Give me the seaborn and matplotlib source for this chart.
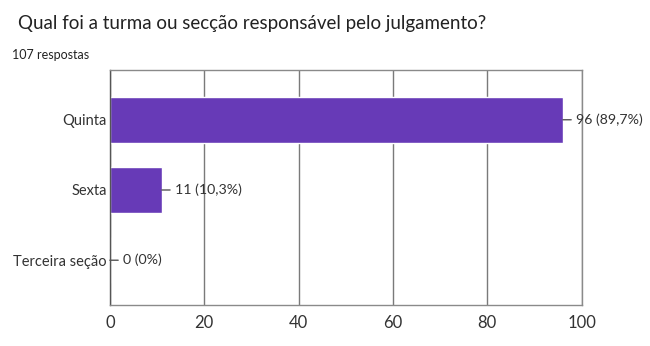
import matplotlib
matplotlib.use("Agg")
import matplotlib.pyplot as plt
import seaborn as sns
import pandas as pd

# Dados
categorias = ["Quinta", "Sexta", "Terceira seção"]
respostas = [96, 11, 0]
rotulos = ["96 (89,7%)", "11 (10,3%)", "0 (0%)"]
total = 107

df = pd.DataFrame({"categoria": categorias, "respostas": respostas})

sns.set_style("white")
plt.rcParams["font.family"] = ["Lato", "DejaVu Sans"]

fig = plt.figure(figsize=(6.5, 3.46), dpi=100)
ax = fig.add_axes([0.169, 0.118, 0.726, 0.680])

sns.barplot(data=df, x="respostas", y="categoria", color="#673AB7",
            saturation=1, width=0.66, ax=ax, orient="h")

ax.set_xlim(0, 100)
ax.set_ylim(2.64, -0.71)
ax.set_xticks([0, 20, 40, 60, 80, 100])
ax.grid(axis="x", color="#7a7a7a", linewidth=1)
ax.set_axisbelow(True)
for s in ax.spines.values():
    s.set_color("#8a8a8a")
    s.set_linewidth(1)
ax.spines["left"].set_color("#555555")
ax.tick_params(axis="both", length=0, colors="#333333")
ax.tick_params(axis="x", labelsize=12, pad=7)
ax.tick_params(axis="y", labelsize=10.5, pad=2)
ax.set_xlabel("")
ax.set_ylabel("")

for i, (v, lab) in enumerate(zip(respostas, rotulos)):
    ax.annotate(lab, xy=(v, i), xytext=(13, 0), textcoords="offset pixels",
                va="center", ha="left", fontsize=10.2, color="#333333",
                arrowprops=dict(arrowstyle="-", color="#555555", lw=1,
                                shrinkA=1, shrinkB=0))

fig.text(0.028, 0.932, "Qual foi a turma ou secção responsável pelo julgamento?",
         fontsize=13.5, color="#222222", va="center")
fig.text(0.018, 0.84, f"{total} respostas", fontsize=9, color="#222222", va="center")

fig.savefig("out.png", dpi=100)
